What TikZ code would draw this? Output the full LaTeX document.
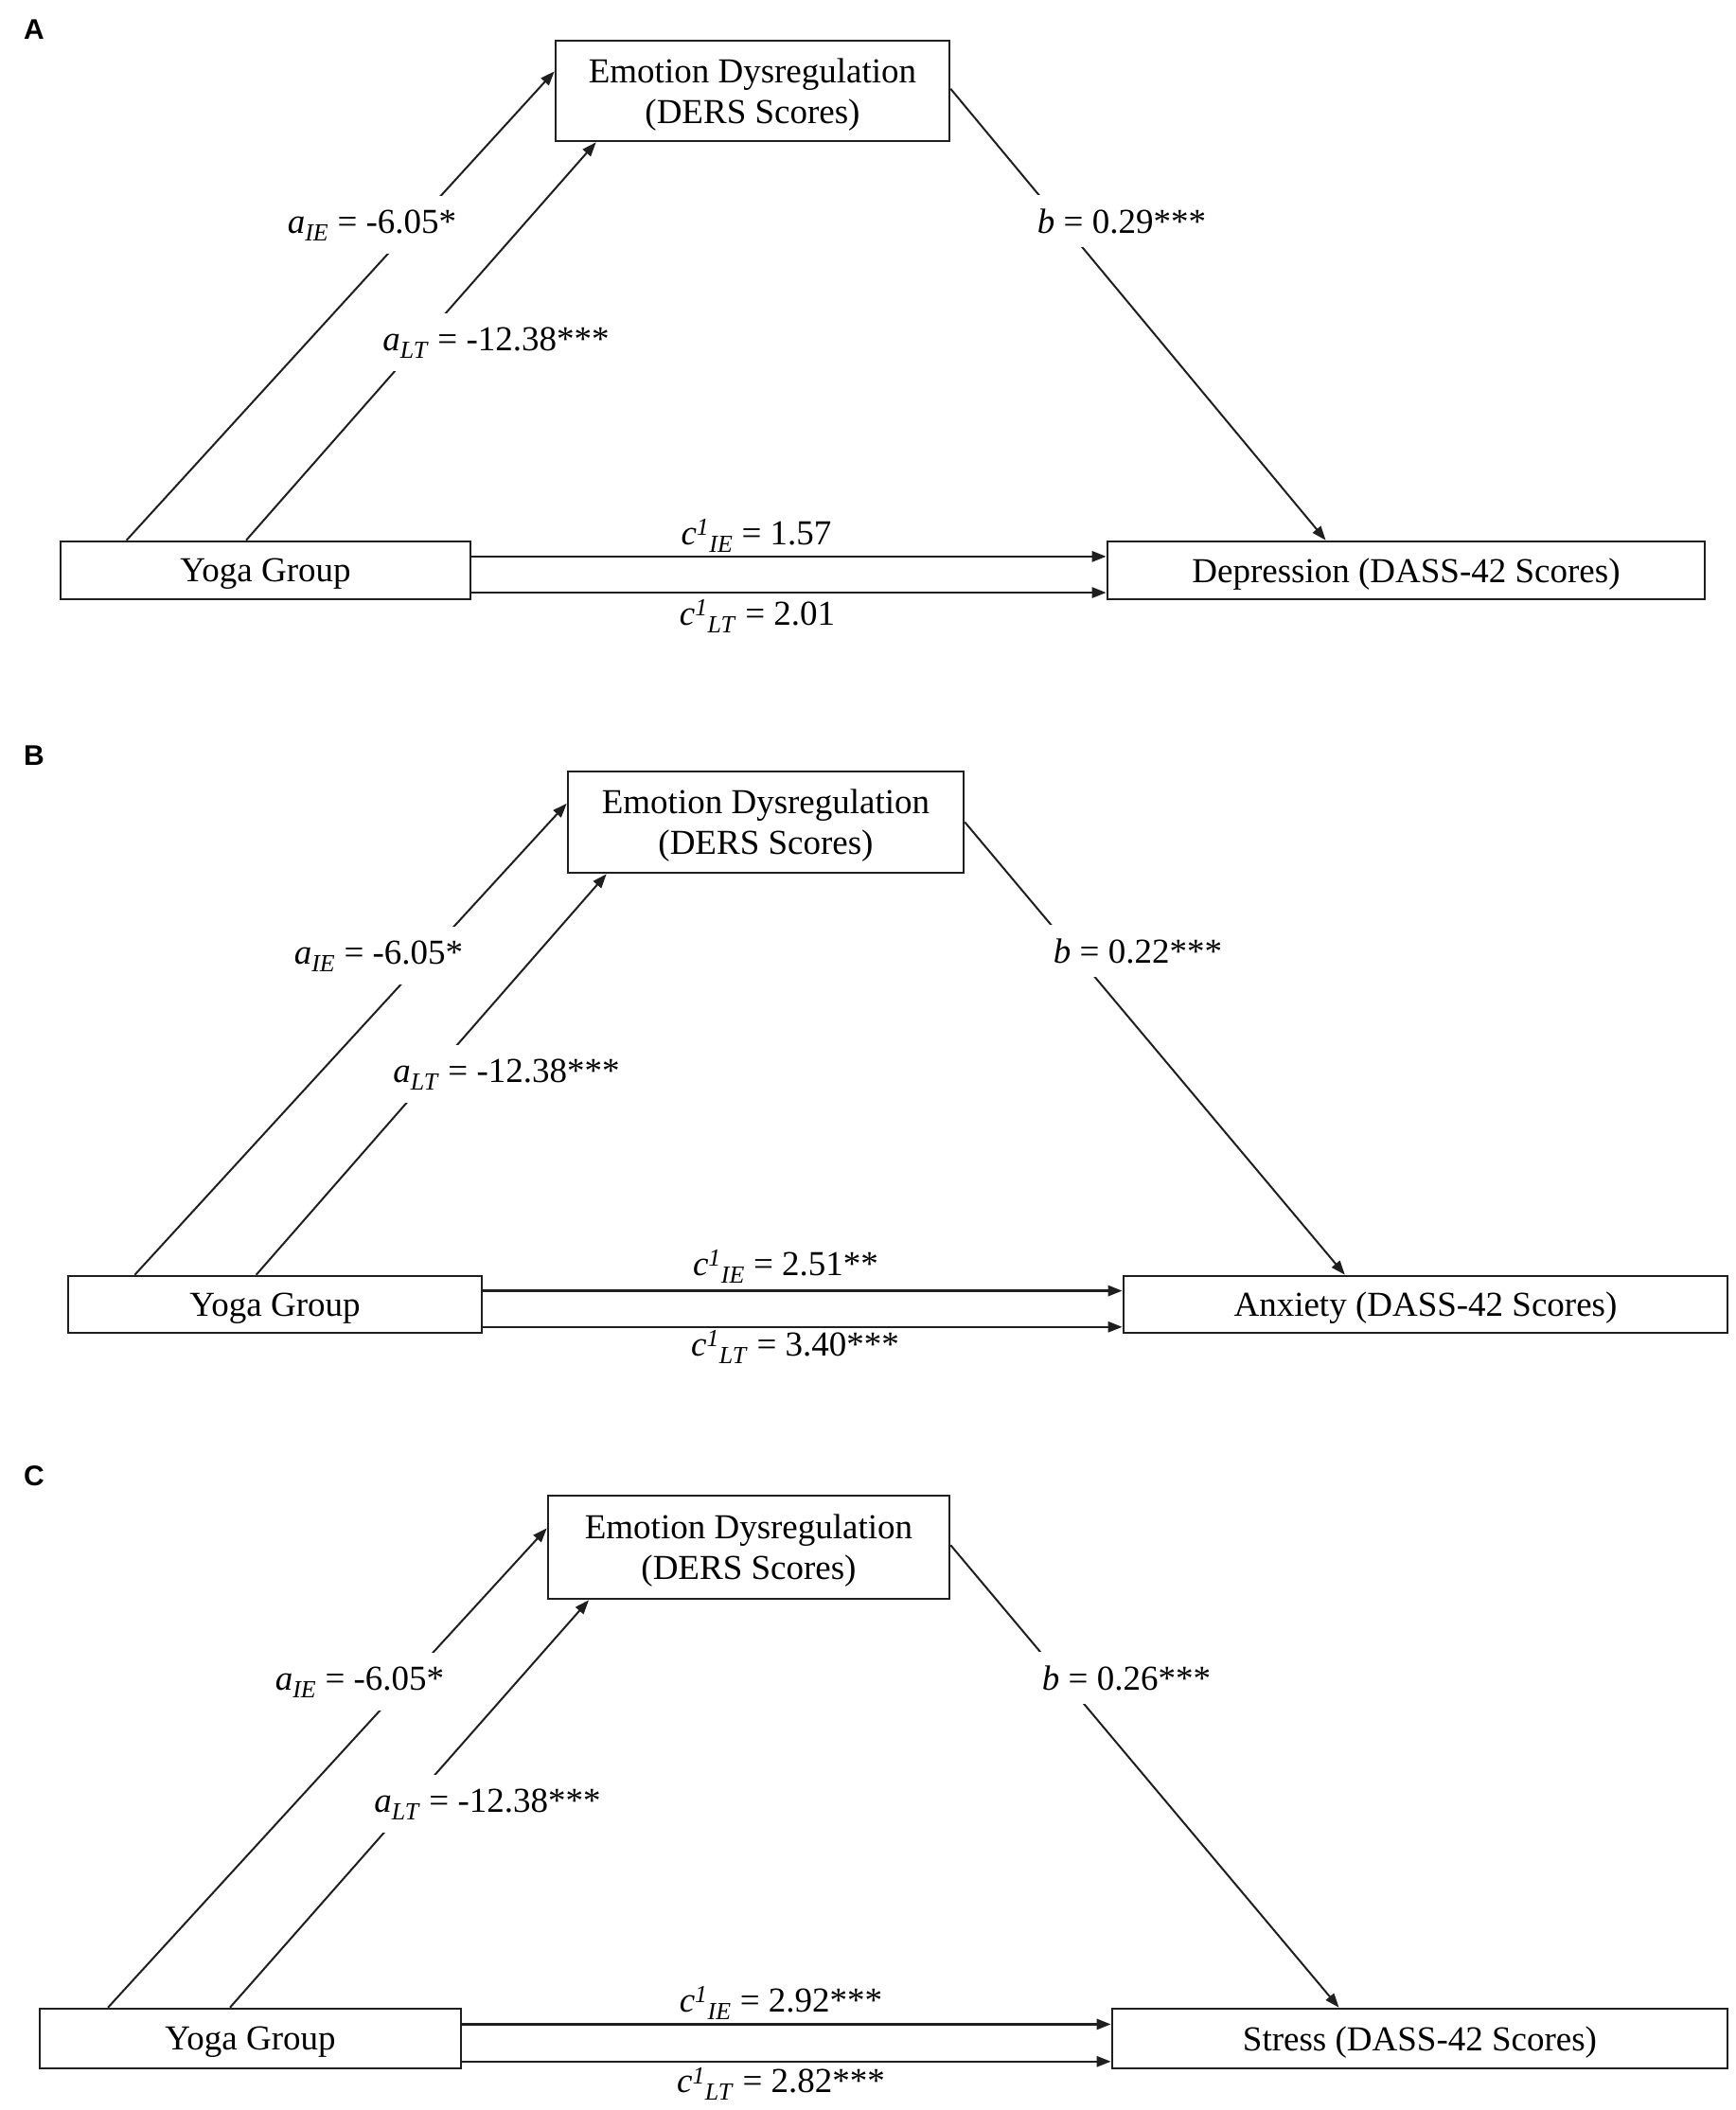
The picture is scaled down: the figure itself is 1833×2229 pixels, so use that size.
\documentclass[tikz,border=0pt]{standalone}
\usepackage{fontspec}
\setmainfont{Liberation Serif}
\newfontfamily\panelfont{Liberation Sans}
\usetikzlibrary{arrows.meta,calc}
\begin{document}
\begin{tikzpicture}[x=1pt,y=-1pt,
  box/.style={draw=black!88, line width=2.6pt, inner sep=0pt, align=center, text depth=0pt, font=\fontsize{37}{43}\selectfont},
  arr/.style={draw=black!88, line width=2pt, -{Triangle[length=15pt,width=11pt]}},
  harr/.style={arr, line width=2.6pt},
  lab/.style={anchor=base, font=\fontsize{37}{43}\selectfont, inner sep=0pt},
  cut/.style={lab, fill=white, inner sep=14pt},
  panel/.style={anchor=base west, font=\panelfont\bfseries\fontsize{30}{36}\selectfont, inner sep=0pt}]
\fill[white] (0,0) rectangle (1833,2229);
\useasboundingbox (0,0) rectangle (1833,2229);

% ---------------- Panel A ----------------
\node[panel] (pA) at (25,42) {A};
\node[box, minimum width=416pt, minimum height=106pt] (eA) at (795,96) {Emotion Dysregulation\\(DERS Scores)};
\node[box, minimum width=433pt, minimum height=61pt] (yA) at (280.5,602.5) {Yoga Group};
\node[box, minimum width=631pt, minimum height=61pt] (dA) at (1485.5,602.5) {Depression (DASS-42 Scores)};
\draw[arr] ($(yA.north west)!0.163!(yA.north east)$) -- ($(eA.north west)!0.31!(eA.south west)$);
\draw[arr] ($(yA.north west)!0.453!(yA.north east)$) -- ($(eA.south west)!0.105!(eA.south east)$);
\draw[arr] ($(eA.north east)!0.48!(eA.south east)$) -- ($(dA.north west)!0.366!(dA.north east)$);
\draw[harr] ($(yA.north east)!0.27!(yA.south east)$) -- ($(dA.north west)!0.27!(dA.south west)$);
\draw[harr] ($(yA.north east)!0.87!(yA.south east)$) -- ($(dA.north west)!0.87!(dA.south west)$);
\node[cut] (aIEA) at (393,246) {\textit{a}\textsubscript{\textit{IE}} = -6.05*};
\node[cut] (aLTA) at (524,370) {\textit{a}\textsubscript{\textit{LT}} = -12.38***};
\node[cut] (bA) at (1185,246) {\textit{b} = 0.29***};
\node[lab] (cIEA) at (799,575) {\textit{c}\textsuperscript{\textit{1}}\textsubscript{\textit{IE}} = 1.57};
\node[lab] (cLTA) at (800,660) {\textit{c}\textsuperscript{\textit{1}}\textsubscript{\textit{LT}} = 2.01};

% ---------------- Panel B ----------------
\node[panel] (pB) at (25,808) {B};
\node[box, minimum width=418pt, minimum height=107pt] (eB) at (809,868.5) {Emotion Dysregulation\\(DERS Scores)};
\node[box, minimum width=437pt, minimum height=60pt] (yB) at (290.5,1378) {Yoga Group};
\node[box, minimum width=638pt, minimum height=60pt] (xB) at (1506,1378) {Anxiety (DASS-42 Scores)};
\draw[arr] ($(yB.north west)!0.163!(yB.north east)$) -- ($(eB.north west)!0.32!(eB.south west)$);
\draw[arr] ($(yB.north west)!0.455!(yB.north east)$) -- ($(eB.south west)!0.1!(eB.south east)$);
\draw[arr] ($(eB.north east)!0.5!(eB.south east)$) -- ($(xB.north west)!0.367!(xB.north east)$);
\draw[harr] ($(yB.north east)!0.27!(yB.south east)$) -- ($(xB.north west)!0.27!(xB.south west)$);
\draw[harr] ($(yB.north east)!0.88!(yB.south east)$) -- ($(xB.north west)!0.88!(xB.south west)$);
\node[cut] (aIEB) at (400,1018) {\textit{a}\textsubscript{\textit{IE}} = -6.05*};
\node[cut] (aLTB) at (535,1143) {\textit{a}\textsubscript{\textit{LT}} = -12.38***};
\node[cut] (bB) at (1202,1017) {\textit{b} = 0.22***};
\node[lab] (cIEB) at (830,1347) {\textit{c}\textsuperscript{\textit{1}}\textsubscript{\textit{IE}} = 2.51**};
\node[lab] (cLTB) at (840,1432) {\textit{c}\textsuperscript{\textit{1}}\textsubscript{\textit{LT}} = 3.40***};

% ---------------- Panel C ----------------
\node[panel] (pC) at (25,1569) {C};
\node[box, minimum width=424pt, minimum height=109pt] (eC) at (791,1634.5) {Emotion Dysregulation\\(DERS Scores)};
\node[box, minimum width=445pt, minimum height=63pt] (yC) at (264.5,2153.5) {Yoga Group};
\node[box, minimum width=650pt, minimum height=63pt] (sC) at (1500,2153.5) {Stress (DASS-42 Scores)};
\draw[arr] ($(yC.north west)!0.164!(yC.north east)$) -- ($(eC.north west)!0.32!(eC.south west)$);
\draw[arr] ($(yC.north west)!0.452!(yC.north east)$) -- ($(eC.south west)!0.104!(eC.south east)$);
\draw[arr] ($(eC.north east)!0.48!(eC.south east)$) -- ($(sC.north west)!0.369!(sC.north east)$);
\draw[harr] ($(yC.north east)!0.27!(yC.south east)$) -- ($(sC.north west)!0.27!(sC.south west)$);
\draw[harr] ($(yC.north east)!0.87!(yC.south east)$) -- ($(sC.north west)!0.87!(sC.south west)$);
\node[cut] (aIEC) at (380,1785) {\textit{a}\textsubscript{\textit{IE}} = -6.05*};
\node[cut] (aLTC) at (515,1914) {\textit{a}\textsubscript{\textit{LT}} = -12.38***};
\node[cut] (bC) at (1190,1785) {\textit{b} = 0.26***};
\node[lab] (cIEC) at (825,2125) {\textit{c}\textsuperscript{\textit{1}}\textsubscript{\textit{IE}} = 2.92***};
\node[lab] (cLTC) at (825,2210) {\textit{c}\textsuperscript{\textit{1}}\textsubscript{\textit{LT}} = 2.82***};
\end{tikzpicture}
\end{document}
